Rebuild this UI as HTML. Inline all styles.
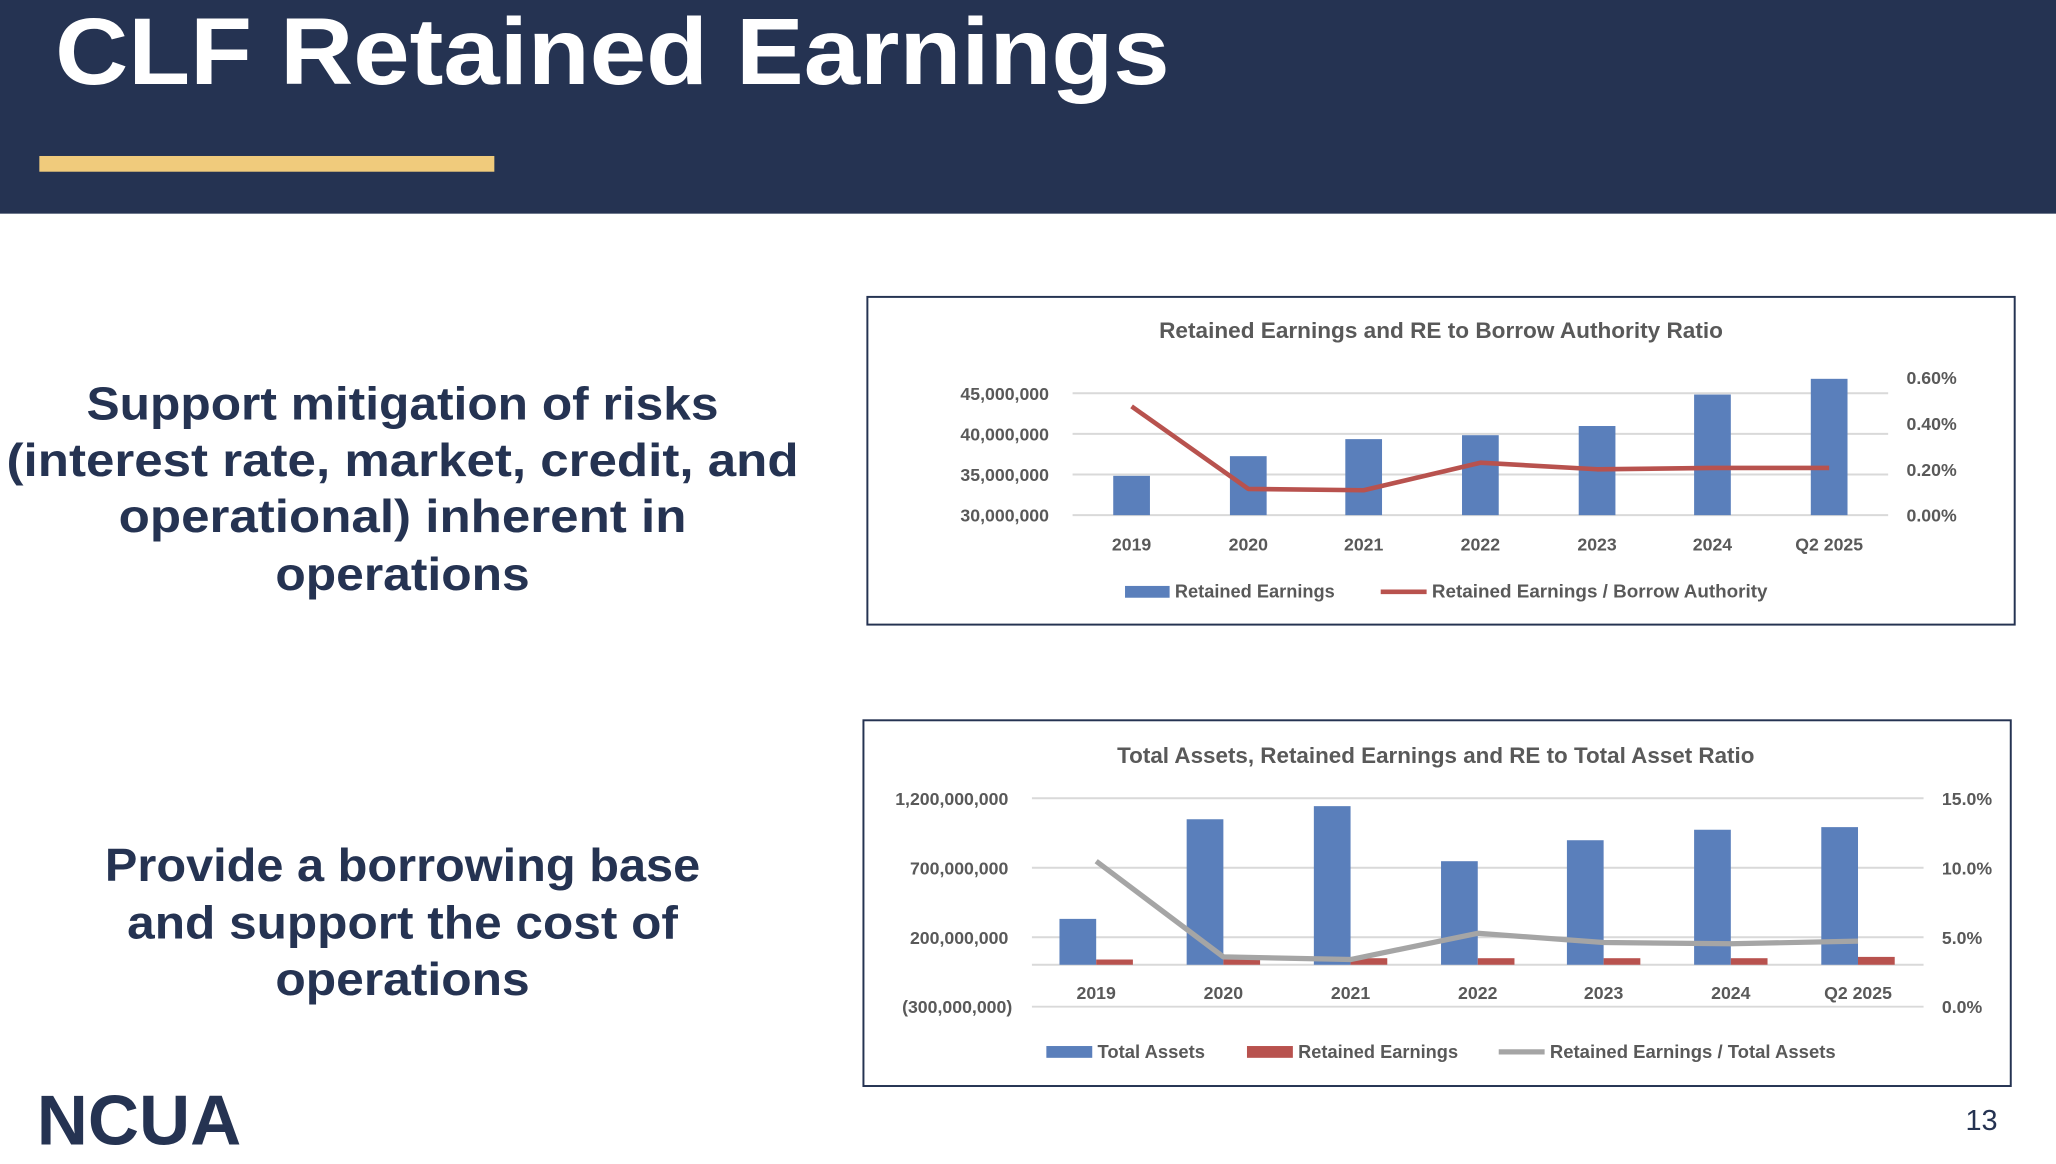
<!DOCTYPE html>
<html><head><meta charset="utf-8"><style>
html,body{margin:0;padding:0;background:#fff;}
svg{display:block;}
</style></head><body>
<svg width="2056" height="1164" viewBox="0 0 1568 888" preserveAspectRatio="none" xmlns="http://www.w3.org/2000/svg" font-family="Liberation Sans, sans-serif">
<rect x="0" y="0" width="1568" height="163" fill="#253352"/>
<text x="42" y="64" font-size="72" font-weight="bold" fill="#fff" textLength="850" lengthAdjust="spacingAndGlyphs">CLF Retained Earnings</text>
<rect x="30" y="119" width="347" height="12" fill="#F0CB7C"/>

<g fill="#253352" font-weight="bold" font-size="35" text-anchor="middle">
<text x="307" y="320" textLength="482" lengthAdjust="spacingAndGlyphs">Support mitigation of risks</text>
<text x="307" y="363" textLength="604" lengthAdjust="spacingAndGlyphs">(interest rate, market, credit, and</text>
<text x="307" y="406" textLength="433" lengthAdjust="spacingAndGlyphs">operational) inherent in</text>
<text x="307" y="450" textLength="194" lengthAdjust="spacingAndGlyphs">operations</text>
<text x="307" y="672" textLength="454" lengthAdjust="spacingAndGlyphs">Provide a borrowing base</text>
<text x="307" y="716" textLength="420" lengthAdjust="spacingAndGlyphs">and support the cost of</text>
<text x="307" y="759" textLength="194" lengthAdjust="spacingAndGlyphs">operations</text>
</g>
<text x="28" y="873" font-size="54" font-weight="bold" fill="#253352" textLength="156" lengthAdjust="spacingAndGlyphs">NCUA</text>
<text x="1499" y="862" font-size="22" fill="#253352">13</text>

<!-- Chart 1 -->
<rect x="661.5" y="226.5" width="875" height="250" fill="#fff" stroke="#253352" stroke-width="1.5"/>
<text x="1099" y="258" text-anchor="middle" font-size="17" font-weight="bold" fill="#595959" textLength="430" lengthAdjust="spacingAndGlyphs">Retained Earnings and RE to Borrow Authority Ratio</text>
<g stroke="#D9D9D9" stroke-width="1.5">
<line x1="818" x2="1440" y1="300" y2="300"/><line x1="818" x2="1440" y1="331" y2="331"/>
<line x1="818" x2="1440" y1="362" y2="362"/><line x1="818" x2="1440" y1="393" y2="393"/>
</g>
<g font-size="13.5" font-weight="bold" fill="#595959" text-anchor="end">
<text x="800" y="305">45,000,000</text><text x="800" y="336">40,000,000</text>
<text x="800" y="367">35,000,000</text><text x="800" y="398">30,000,000</text>
</g>
<g font-size="13.5" font-weight="bold" fill="#595959">
<text x="1454" y="293">0.60%</text><text x="1454" y="328">0.40%</text>
<text x="1454" y="363">0.20%</text><text x="1454" y="398">0.00%</text>
</g>
<g fill="#5A7FBB">
<rect x="849" y="363" width="28" height="30"/><rect x="938" y="348" width="28" height="45"/>
<rect x="1026" y="335" width="28" height="58"/><rect x="1115" y="332" width="28" height="61"/>
<rect x="1204" y="325" width="28" height="68"/><rect x="1292" y="301" width="28" height="92"/>
<rect x="1381" y="289" width="28" height="104"/>
</g>
<polyline points="863,310 952,373 1040,374 1129,353 1218,358 1306,357 1395,357" fill="none" stroke="#B8524E" stroke-width="3.5" stroke-linejoin="round"/>
<g font-size="13.5" font-weight="bold" fill="#595959" text-anchor="middle">
<text x="863" y="420">2019</text><text x="952" y="420">2020</text><text x="1040" y="420">2021</text>
<text x="1129" y="420">2022</text><text x="1218" y="420">2023</text><text x="1306" y="420">2024</text>
<text x="1395" y="420">Q2 2025</text>
</g>
<rect x="858" y="447" width="34" height="9" fill="#5A7FBB"/>
<text x="896" y="456" font-size="14" font-weight="bold" fill="#595959" textLength="122" lengthAdjust="spacingAndGlyphs">Retained Earnings</text>
<line x1="1053" x2="1088" y1="451.5" y2="451.5" stroke="#B8524E" stroke-width="3.5"/>
<text x="1092" y="456" font-size="14" font-weight="bold" fill="#595959" textLength="256" lengthAdjust="spacingAndGlyphs">Retained Earnings / Borrow Authority</text>

<!-- Chart 2 -->
<rect x="658.5" y="549.5" width="875" height="279" fill="#fff" stroke="#253352" stroke-width="1.5"/>
<text x="1095" y="582" text-anchor="middle" font-size="17" font-weight="bold" fill="#595959" textLength="486" lengthAdjust="spacingAndGlyphs">Total Assets, Retained Earnings and RE to Total Asset Ratio</text>
<g stroke="#D9D9D9" stroke-width="1.5">
<line x1="787" x2="1467" y1="609" y2="609"/><line x1="787" x2="1467" y1="662" y2="662"/>
<line x1="787" x2="1467" y1="715" y2="715"/><line x1="787" x2="1467" y1="768" y2="768"/>
<line x1="787" x2="1467" y1="736" y2="736"/>
</g>
<g font-size="13.5" font-weight="bold" fill="#595959" text-anchor="end">
<text x="769" y="614">1,200,000,000</text><text x="769" y="667">700,000,000</text>
<text x="769" y="720">200,000,000</text><text x="772" y="773">(300,000,000)</text>
</g>
<g font-size="13.5" font-weight="bold" fill="#595959">
<text x="1481" y="614">15.0%</text><text x="1481" y="667">10.0%</text>
<text x="1481" y="720">5.0%</text><text x="1481" y="773">0.0%</text>
</g>
<g fill="#5A7FBB">
<rect x="808" y="701" width="28" height="35"/><rect x="905" y="625" width="28" height="111"/>
<rect x="1002" y="615" width="28" height="121"/><rect x="1099" y="657" width="28" height="79"/>
<rect x="1195" y="641" width="28" height="95"/><rect x="1292" y="633" width="28" height="103"/>
<rect x="1389" y="631" width="28" height="105"/>
</g>
<g fill="#B8524E">
<rect x="836" y="732" width="28" height="4"/><rect x="933" y="732" width="28" height="4"/>
<rect x="1030" y="731" width="28" height="5"/><rect x="1127" y="731" width="28" height="5"/>
<rect x="1223" y="731" width="28" height="5"/><rect x="1320" y="731" width="28" height="5"/>
<rect x="1417" y="730" width="28" height="6"/>
</g>
<polyline points="836,657 933,730 1030,732 1127,712 1223,719 1320,720 1417,718" fill="none" stroke="#A5A5A5" stroke-width="4" stroke-linejoin="round"/>
<g font-size="13.5" font-weight="bold" fill="#595959" text-anchor="middle">
<text x="836" y="762">2019</text><text x="933" y="762">2020</text><text x="1030" y="762">2021</text>
<text x="1127" y="762">2022</text><text x="1223" y="762">2023</text><text x="1320" y="762">2024</text>
<text x="1417" y="762">Q2 2025</text>
</g>
<rect x="798" y="798" width="35" height="9" fill="#5A7FBB"/>
<text x="837" y="807" font-size="14" font-weight="bold" fill="#595959" textLength="82" lengthAdjust="spacingAndGlyphs">Total Assets</text>
<rect x="951" y="798" width="35" height="9" fill="#B8524E"/>
<text x="990" y="807" font-size="14" font-weight="bold" fill="#595959" textLength="122" lengthAdjust="spacingAndGlyphs">Retained Earnings</text>
<line x1="1143" x2="1178" y1="802.5" y2="802.5" stroke="#A5A5A5" stroke-width="4"/>
<text x="1182" y="807" font-size="14" font-weight="bold" fill="#595959" textLength="218" lengthAdjust="spacingAndGlyphs">Retained Earnings / Total Assets</text>
</svg>
</body></html>
